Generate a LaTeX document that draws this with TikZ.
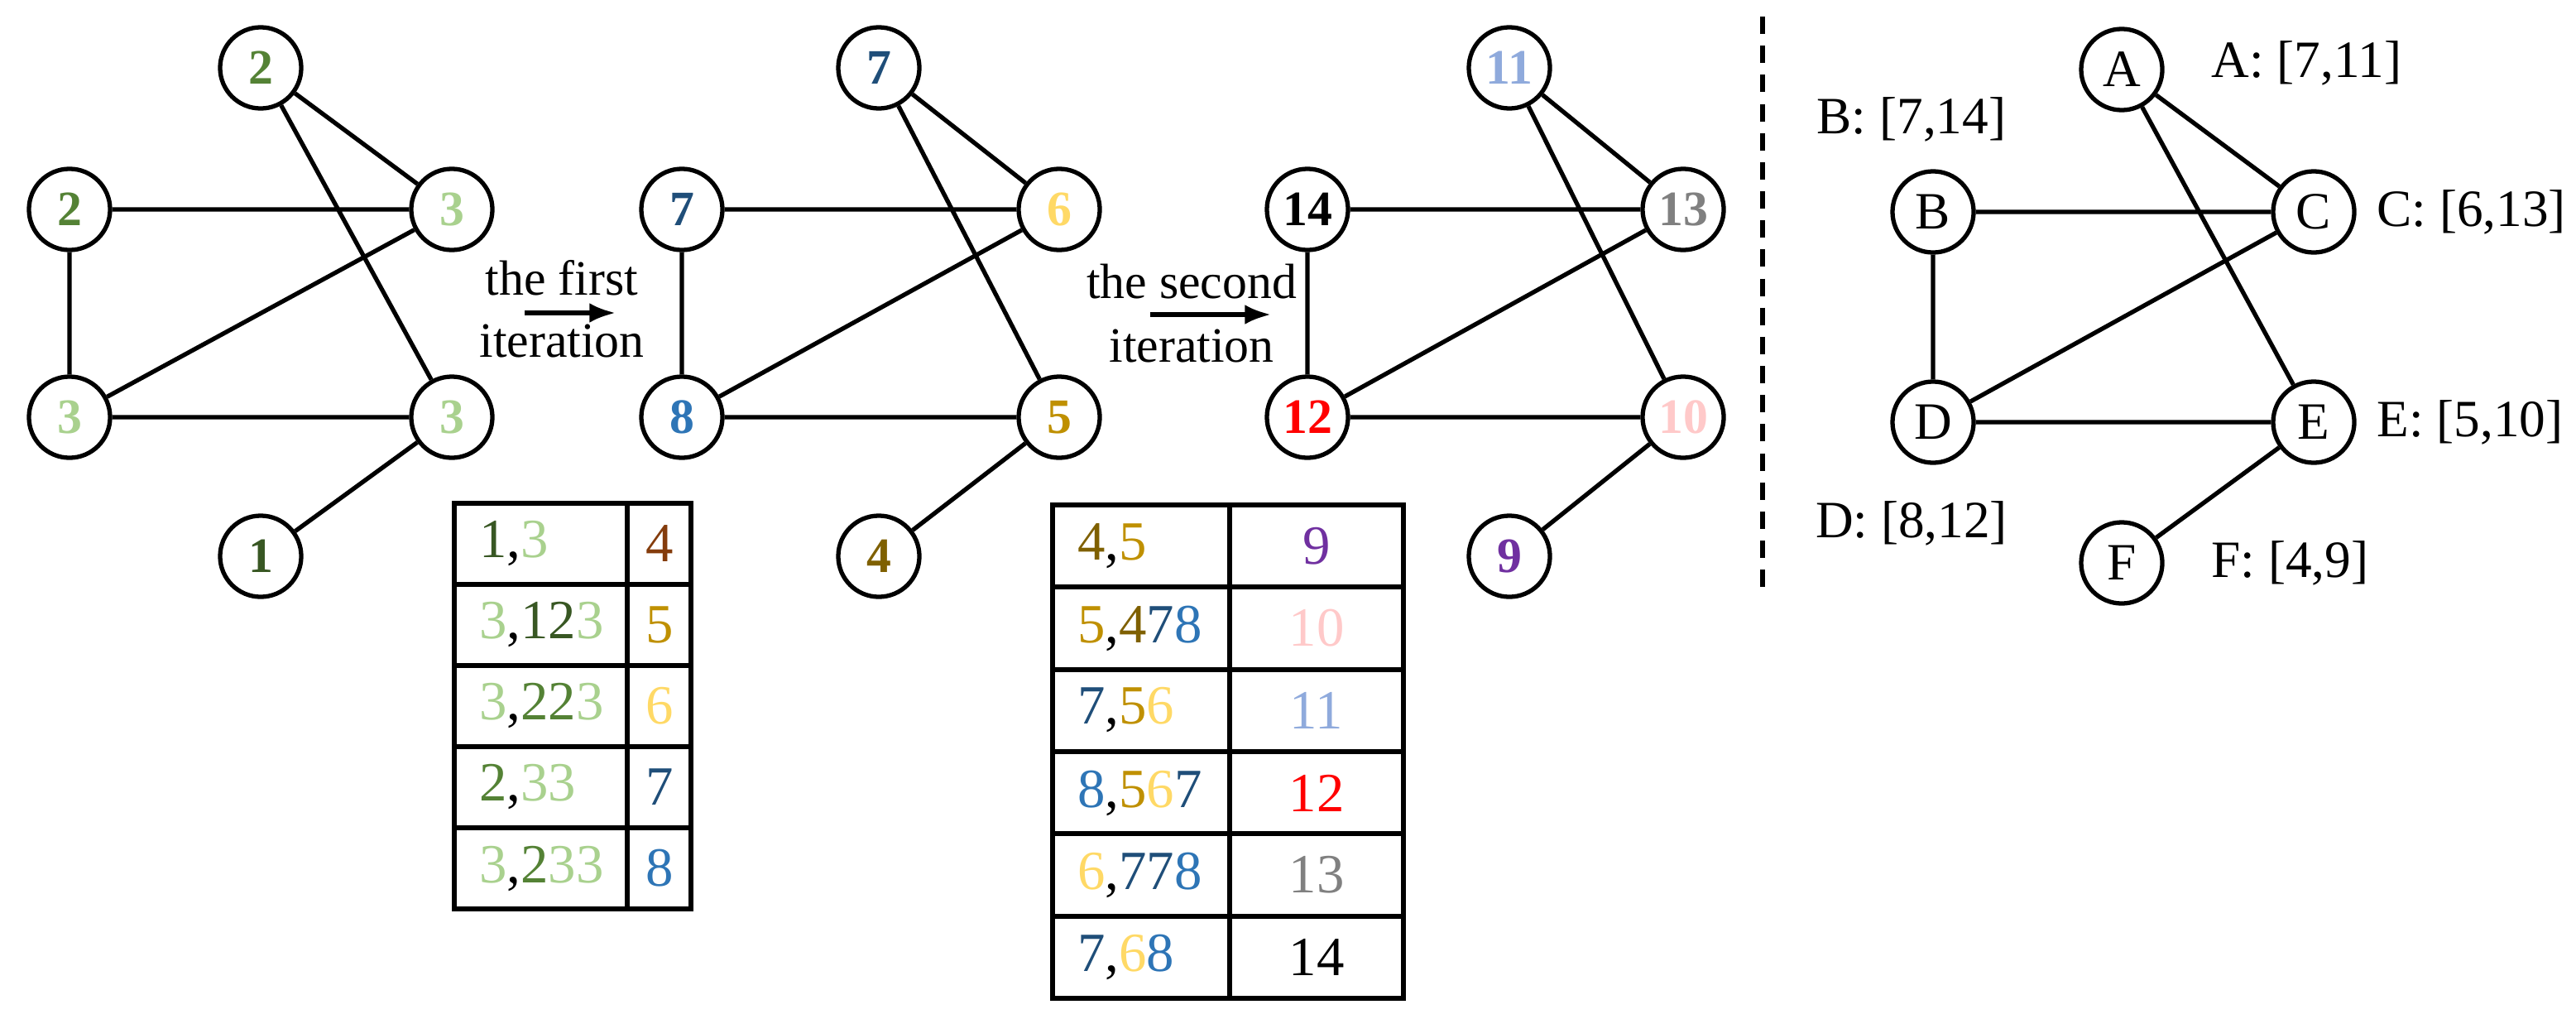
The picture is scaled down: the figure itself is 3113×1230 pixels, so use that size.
\documentclass[tikz,border=0pt]{standalone}
\usepackage{fontspec}
\setmainfont{Liberation Serif}
\usetikzlibrary{arrows.meta}
\definecolor{cA}{HTML}{385723}
\definecolor{cB}{HTML}{548235}
\definecolor{cC}{HTML}{A9D18E}
\definecolor{cD}{HTML}{7F6000}
\definecolor{cDt}{HTML}{843C0C}
\definecolor{cE}{HTML}{BF9000}
\definecolor{cF}{HTML}{FFD966}
\definecolor{cG}{HTML}{1F4E79}
\definecolor{cH}{HTML}{2E75B6}
\definecolor{cI}{HTML}{7030A0}
\definecolor{cJ}{HTML}{FFC9C9}
\definecolor{cK}{HTML}{8FAADC}
\definecolor{cL}{HTML}{FF0000}
\definecolor{cM}{HTML}{808080}
\tikzset{
  vtx/.style={circle, draw, line width=1.5pt, minimum size=0.98cm, inner sep=0pt, font=\fontsize{17}{17}\selectfont\bfseries},
  lvtx/.style={circle, draw, line width=1.5pt, minimum size=0.98cm, inner sep=0pt, font=\fontsize{18}{18}\selectfont},
  lab/.style={font=\fontsize{18}{20}\selectfont},
  itlab/.style={font=\fontsize{17}{19}\selectfont},
  edge/.style={line width=1.5pt},
  cell/.style={font=\fontsize{19}{19}\selectfont},
}
\begin{document}
\begin{tikzpicture}[x=0.01cm, y=-0.01cm]
    \useasboundingbox (0,0) rectangle (3113,1230);

    % graph before the first iteration
    \node[vtx, text=cB] (a1) at (315,82) {2};
    \node[vtx, text=cB] (b1) at (84,253) {2};
    \node[vtx, text=cC] (c1) at (546,253) {3};
    \node[vtx, text=cC] (d1) at (84,504) {3};
    \node[vtx, text=cC] (e1) at (546,504) {3};
    \node[vtx, text=cA] (f1) at (315,672) {1};
    \draw[edge] (a1) -- (c1) (a1) -- (e1) (b1) -- (c1) (b1) -- (d1)
        (d1) -- (c1) (d1) -- (e1) (e1) -- (f1);

    % first arrow
    \node[itlab] (t1) at (679,336) {the first};
    \node[itlab] (i1) at (679,412) {iteration};
    \coordinate (s1) at (634,378);
    \coordinate (r1) at (744,378);
    \draw[line width=1.5pt, -{Latex[length=9pt]}] (s1) -- (r1);

    % graph after the first iteration
    \node[vtx, text=cG] (a2) at (1062,82) {7};
    \node[vtx, text=cG] (b2) at (824,253) {7};
    \node[vtx, text=cF] (c2) at (1280,253) {6};
    \node[vtx, text=cH] (d2) at (824,504) {8};
    \node[vtx, text=cE] (e2) at (1280,504) {5};
    \node[vtx, text=cD] (f2) at (1062,672) {4};
    \draw[edge] (a2) -- (c2) (a2) -- (e2) (b2) -- (c2) (b2) -- (d2)
        (d2) -- (c2) (d2) -- (e2) (e2) -- (f2);

    % first table
    \draw[line width=1.5pt] (549,608) rectangle (835,1098);
    \draw[line width=1.5pt] (758,608) -- (758,1098);
    \foreach \y in {706,804,902,1000} {
        \draw[line width=1.5pt] (549,\y) -- (835,\y);
    }
    \node[cell, anchor=west] (p1) at (567,657) {\textcolor{cA}{1},\textcolor{cC}{3}};
    \node[cell, anchor=west] (p2) at (567,755) {\textcolor{cC}{3},\textcolor{cA}{12}\textcolor{cC}{3}};
    \node[cell, anchor=west] (p3) at (567,853) {\textcolor{cC}{3},\textcolor{cB}{22}\textcolor{cC}{3}};
    \node[cell, anchor=west] (p4) at (567,951) {\textcolor{cB}{2},\textcolor{cC}{33}};
    \node[cell, anchor=west] (p5) at (567,1049) {\textcolor{cC}{3},\textcolor{cB}{2}\textcolor{cC}{33}};
    \node[cell, text=cDt] (q1) at (797,657) {4};
    \node[cell, text=cE] (q2) at (797,755) {5};
    \node[cell, text=cF] (q3) at (797,853) {6};
    \node[cell, text=cG] (q4) at (797,951) {7};
    \node[cell, text=cH] (q5) at (797,1049) {8};

    % second arrow
    \node[itlab] (t2) at (1440,340) {the second};
    \node[itlab] (i2) at (1440,418) {iteration};
    \coordinate (s2) at (1390,380);
    \coordinate (r2) at (1536,380);
    \draw[line width=1.5pt, -{Latex[length=9pt]}] (s2) -- (r2);

    % graph after the second iteration
    \node[vtx, text=cK] (a3) at (1824,82) {11};
    \node[vtx, text=black] (b3) at (1580,253) {14};
    \node[vtx, text=cM] (c3) at (2034,253) {13};
    \node[vtx, text=cL] (d3) at (1580,504) {12};
    \node[vtx, text=cJ] (e3) at (2034,504) {10};
    \node[vtx, text=cI] (f3) at (1824,672) {9};
    \draw[edge] (a3) -- (c3) (a3) -- (e3) (b3) -- (c3) (b3) -- (d3)
        (d3) -- (c3) (d3) -- (e3) (e3) -- (f3);

    % second table
    \draw[line width=1.5pt] (1272,610) rectangle (1696,1206);
    \draw[line width=1.5pt] (1486,610) -- (1486,1206);
    \foreach \y in {709,809,908,1007,1107} {
        \draw[line width=1.5pt] (1272,\y) -- (1696,\y);
    }
    \node[cell, anchor=west] (m1) at (1290,660) {\textcolor{cD}{4},\textcolor{cE}{5}};
    \node[cell, anchor=west] (m2) at (1290,759) {\textcolor{cE}{5},\textcolor{cD}{4}\textcolor{cG}{7}\textcolor{cH}{8}};
    \node[cell, anchor=west] (m3) at (1290,858) {\textcolor{cG}{7},\textcolor{cE}{5}\textcolor{cF}{6}};
    \node[cell, anchor=west] (m4) at (1290,958) {\textcolor{cH}{8},\textcolor{cE}{5}\textcolor{cF}{6}\textcolor{cG}{7}};
    \node[cell, anchor=west] (m5) at (1290,1057) {\textcolor{cF}{6},\textcolor{cG}{77}\textcolor{cH}{8}};
    \node[cell, anchor=west] (m6) at (1290,1156) {\textcolor{cG}{7},\textcolor{cF}{6}\textcolor{cH}{8}};
    \node[cell, text=cI] (n1) at (1591,660) {9};
    \node[cell, text=cJ] (n2) at (1591,759) {10};
    \node[cell, text=cK] (n3) at (1591,858) {11};
    \node[cell, text=cL] (n4) at (1591,958) {12};
    \node[cell, text=cM] (n5) at (1591,1057) {13};
    \node[cell] (n6) at (1591,1156) {14};

    % separator
    \coordinate (sepT) at (2130,20);
    \coordinate (sepB) at (2130,710);
    \draw[line width=1.5pt, dash pattern=on 6pt off 4pt] (sepT) -- (sepB);

    % graph with intervals
    \node[lvtx] (A) at (2564,84) {A};
    \node[lvtx] (B) at (2336,256) {B};
    \node[lvtx] (C) at (2796,256) {C};
    \node[lvtx] (D) at (2336,510) {D};
    \node[lvtx] (E) at (2796,510) {E};
    \node[lvtx] (F) at (2564,680) {F};
    \draw[edge] (A) -- (C) (A) -- (E) (B) -- (C) (B) -- (D)
        (D) -- (C) (D) -- (E) (E) -- (F);
    \node[lab, anchor=west] (lA) at (2660,76) {A: [7,11]};
    \node[lab] (lB) at (2310,144) {B: [7,14]};
    \node[lab, anchor=west] (lC) at (2860,256) {C: [6,13]};
    \node[lab] (lD) at (2310,632) {D: [8,12]};
    \node[lab, anchor=west] (lE) at (2860,510) {E: [5,10]};
    \node[lab, anchor=west] (lF) at (2660,680) {F: [4,9]};
\end{tikzpicture}
\end{document}
